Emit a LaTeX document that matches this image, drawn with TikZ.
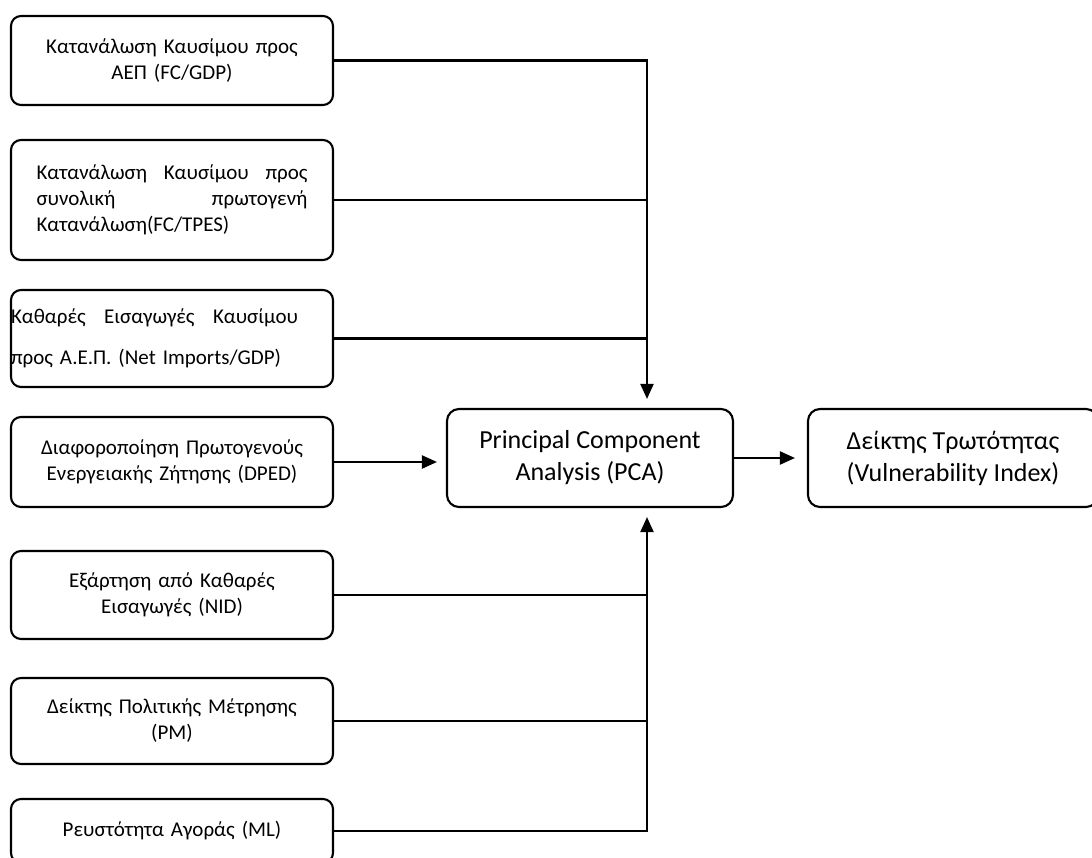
\documentclass[tikz,border=0pt]{standalone}
\usepackage{fontspec}
\setmainfont{Carlito}
\usetikzlibrary{arrows.meta}

\tikzset{
  factor/.style={draw, rounded corners=10pt, line width=2.1pt, minimum width=322pt,
    text width=271pt, align=center, inner sep=0pt, font=\fontsize{21}{26}\selectfont},
  result/.style={draw, rounded corners=12pt, line width=2.1pt, minimum height=98pt,
    align=center, font=\fontsize{26}{32}\selectfont},
  link/.style={line width=2.1pt},
  flow/.style={link, -{Triangle[length=15pt,width=13pt]}, shorten >=9pt}
}
\newcommand{\fullline}[2]{\leavevmode\hbox to #1{#2}}

\begin{document}
\begin{tikzpicture}[x=1pt,y=-1pt]
        \clip (0,0) rectangle (1092,858);

        \node[factor, minimum height=89pt] (fcgdp) at (172,60.5) {Κατανάλωση Καυσίμου προς\\ ΑΕΠ (FC/GDP)};
        \node[factor, minimum height=120pt, align=left] (fctpes) at (172,200)
            {\fullline{271pt}{Κατανάλωση\hfill Καυσίμου\hfill προς}\\ \fullline{271pt}{συνολική\hfill πρωτογενή}\\ Κατανάλωση(FC/TPES)};
        \node[factor, minimum height=97pt, text width=322pt, align=left, font=\fontsize{21}{41}\selectfont] (netimp) at (172,338.5)
            {\fullline{287pt}{Καθαρές\hfill Εισαγωγές\hfill Καυσίμου}\\ προς Α.Ε.Π. (Net Imports/GDP)};
        \node[factor, minimum height=90pt] (dped) at (172,462) {Διαφοροποίηση Πρωτογενούς\\ Ενεργειακής Ζήτησης (DPED)};
        \node[factor, minimum height=88pt] (nid) at (172,595) {Εξάρτηση από Καθαρές\\ Εισαγωγές (NID)};
        \node[factor, minimum height=86pt] (pm) at (172,721) {Δείκτης Πολιτικής Μέτρησης\\ (PM)};
        \node[factor, minimum height=64pt] (ml) at (172,831) {Ρευστότητα Αγοράς (ML)};

        \node[result, minimum width=286pt] (pca) at (590,458) {Principal Component\\ Analysis (PCA)};
        \node[result, minimum width=290pt] (vi) at (953,458) {Δείκτης Τρωτότητας\\ (Vulnerability Index)};

        % collecting line into the PCA box
        \coordinate (bus) at (647,458);

        \draw[flow] (fcgdp.east) -| (bus |- pca.north);
        \draw[link] (fctpes.east) -- (fctpes.east -| bus);
        \draw[link] (netimp.east) -- (netimp.east -| bus);
        \draw[flow] (dped.east) -- (dped.east -| pca.west);
        \draw[link] (nid.east) -- (nid.east -| bus);
        \draw[link] (pm.east) -- (pm.east -| bus);
        \draw[flow] (ml.east) -| (bus |- pca.south);

        \draw[flow, shorten >=12pt] (pca.east) -- (vi.west);
\end{tikzpicture}
\end{document}
